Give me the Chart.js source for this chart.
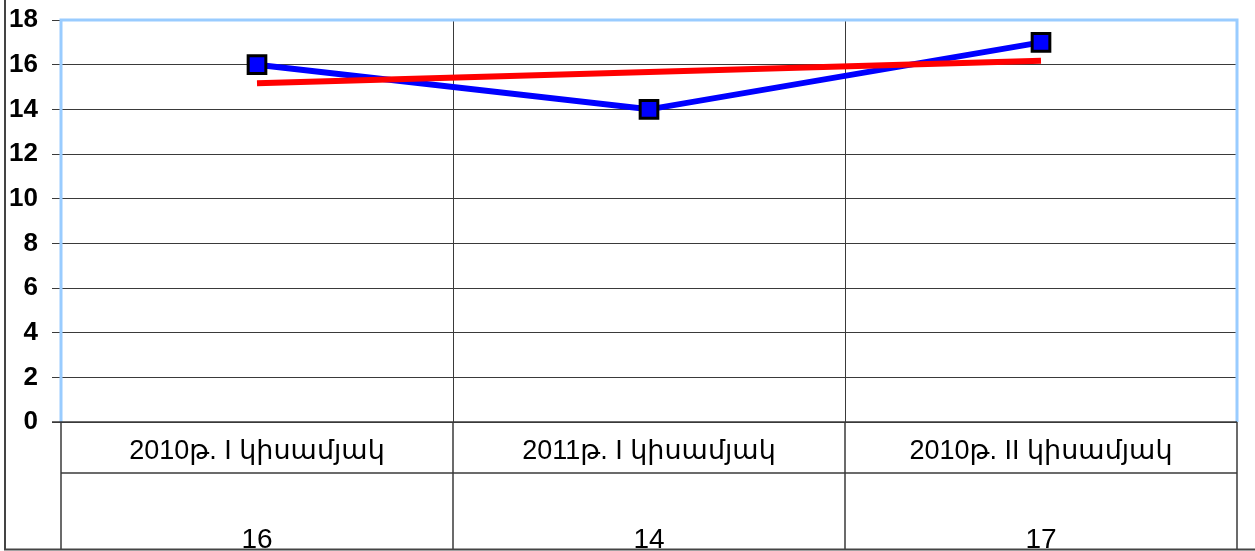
<!DOCTYPE html>
<html>
<head>
<meta charset="utf-8">
<script src="https://cdn.jsdelivr.net/npm/chart.js@4"></script>
<style>
  html, body { margin: 0; padding: 0; background: #fff; }
  #wrap { width: 1255px; height: 551px; }
</style>
</head>
<body>
<div id="wrap"><canvas id="myChart" width="1255" height="551"></canvas></div>
<script>
// Chart data
const categories = ["2010թ. I կիսամյակ", "2011թ. I կիսամյակ", "2010թ. II կիսամյակ"];
const values = [16, 14, 17];
// linear trend line
const trendValues = [15.17, 15.67, 16.17];
const yTicks = [0, 2, 4, 6, 8, 10, 12, 14, 16, 18];

const FONT = "'Liberation Sans', Arial, 'DejaVu Sans', sans-serif";

// plot border, data table and outer frame
const tablePlugin = {
  id: "dataTable",
  beforeDatasetsDraw(chart) {
    const { ctx, chartArea: a } = chart;
    ctx.save();
    ctx.strokeStyle = "#99ccff";
    ctx.lineWidth = 3;
    ctx.beginPath();
    ctx.moveTo(a.left, a.bottom);
    ctx.lineTo(a.left, a.top);
    ctx.lineTo(a.right, a.top);
    ctx.lineTo(a.right, a.bottom);
    ctx.stroke();
    ctx.restore();
  },
  afterDraw(chart) {
    const { ctx, chartArea: a } = chart;
    const x = chart.scales.x;
    const bottom = 549;
    const rowY = 473;
    ctx.save();
    ctx.strokeStyle = "#3a3a3a";
    ctx.lineWidth = 1.5;

    // bottom axis line
    ctx.beginPath();
    ctx.moveTo(a.left - 9, a.bottom);
    ctx.lineTo(a.right, a.bottom);
    ctx.stroke();

    // row divider
    ctx.beginPath();
    ctx.moveTo(a.left, rowY);
    ctx.lineTo(a.right, rowY);
    ctx.stroke();

    // column lines
    const edges = [a.left];
    for (let i = 0; i < categories.length - 1; i++) {
      edges.push((x.getPixelForValue(i) + x.getPixelForValue(i + 1)) / 2);
    }
    edges.push(a.right);
    edges.forEach((ex) => {
      ctx.beginPath();
      ctx.moveTo(ex, a.bottom);
      ctx.lineTo(ex, bottom);
      ctx.stroke();
    });

    // outer frame
    ctx.strokeStyle = "#444";
    ctx.lineWidth = 2;
    ctx.beginPath();
    ctx.moveTo(5, 0);
    ctx.lineTo(5, bottom + 0.5);
    ctx.lineTo(1255, bottom + 0.5);
    ctx.stroke();

    // texts
    ctx.fillStyle = "#000";
    ctx.textAlign = "center";
    ctx.textBaseline = "alphabetic";
    ctx.font = "27px " + FONT;
    categories.forEach((c, i) => {
      ctx.fillText(c, x.getPixelForValue(i), 459);
    });
    ctx.beginPath();
    ctx.rect(a.left, rowY, a.right - a.left, bottom - rowY - 1);
    ctx.clip();
    ctx.font = "28px " + FONT;
    values.forEach((v, i) => {
      ctx.fillText(String(v), x.getPixelForValue(i), 548);
    });
    ctx.restore();
  },
};

const myChart = document.getElementById("myChart");

new Chart(myChart, {
  type: "line",
  data: {
    labels: categories,
    datasets: [
      {
        label: "Trend",
        data: trendValues,
        borderColor: "#ff0000",
        borderWidth: 6,
        pointRadius: 0,
        fill: false,
        tension: 0,
      },
      {
        label: "Values",
        data: values,
        borderColor: "#0000ff",
        borderWidth: 6,
        pointStyle: "rect",
        pointRadius: 12.5,
        pointBackgroundColor: "#0000ff",
        pointBorderColor: "#000",
        pointBorderWidth: 3,
        fill: false,
        tension: 0,
      },
    ],
  },
  options: {
    responsive: false,
    animation: false,
    layout: { padding: { top: 20, right: 18, left: 0, bottom: 0 } },
    plugins: {
      legend: { display: false },
      tooltip: { enabled: false },
    },
    scales: {
      x: {
        offset: true,
        grid: { offset: true, color: "#3a3a3a", lineWidth: 1, drawTicks: false },
        border: { display: false },
        ticks: { display: false },
        afterFit(scale) {
          scale.height = 129;
        },
      },
      y: {
        min: 0,
        max: 18,
        afterBuildTicks(scale) {
          scale.ticks = yTicks.map((v) => ({ value: v }));
        },
        grid: { color: "#3a3a3a", lineWidth: 1, tickLength: 9 },
        border: { display: false },
        ticks: {
          color: "#000",
          padding: 14,
          font: { family: FONT, size: 26, weight: "bold" },
        },
        afterFit(scale) {
          scale.width = 61;
          scale.paddingTop = 0;
          scale.paddingBottom = 0;
        },
      },
    },
  },
  plugins: [tablePlugin],
});
</script>
</body>
</html>
